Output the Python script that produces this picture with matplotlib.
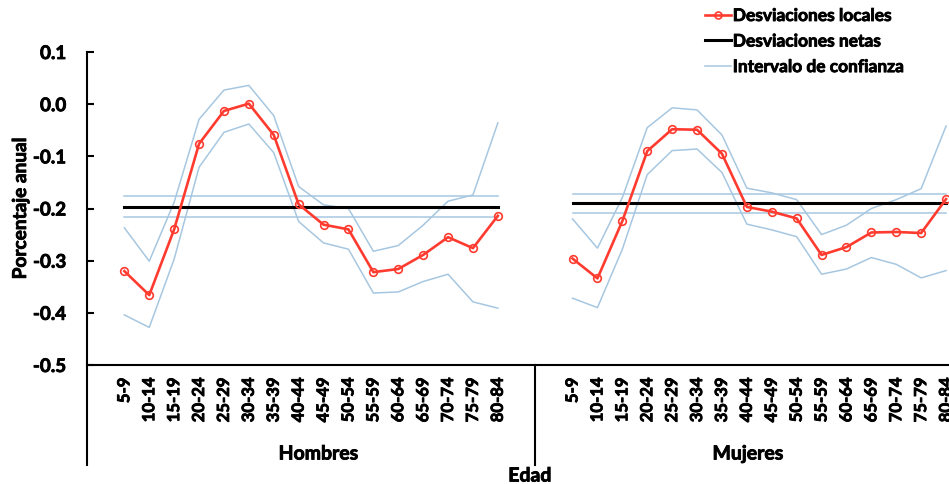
import numpy as np
import matplotlib
matplotlib.use("Agg")
import matplotlib.pyplot as plt
from matplotlib.lines import Line2D
import matplotlib.transforms as mtransforms
import matplotlib.patheffects as pe

plt.rcParams['font.family'] = ['Lato', 'DejaVu Sans']
plt.rcParams['font.weight'] = 'bold'

edades = ["5-9", "10-14", "15-19", "20-24", "25-29", "30-34", "35-39", "40-44",
          "45-49", "50-54", "55-59", "60-64", "65-69", "70-74", "75-79", "80-84"]

# Hombres
h_local = [-0.320, -0.366, -0.240, -0.076, -0.013, 0.001, -0.059, -0.192,
           -0.231, -0.240, -0.322, -0.316, -0.289, -0.255, -0.276, -0.214]
h_sup = [-0.237, -0.301, -0.188, -0.029, 0.027, 0.036, -0.022, -0.158,
         -0.193, -0.200, -0.282, -0.271, -0.232, -0.186, -0.174, -0.036]
h_inf = [-0.404, -0.428, -0.297, -0.121, -0.054, -0.038, -0.093, -0.225,
         -0.266, -0.278, -0.362, -0.360, -0.340, -0.326, -0.379, -0.391]
h_neta = -0.197
h_neta_sup = -0.176
h_neta_inf = -0.217

# Mujeres
m_local = [-0.296, -0.334, -0.224, -0.090, -0.048, -0.049, -0.095, -0.197,
           -0.206, -0.219, -0.289, -0.274, -0.246, -0.245, -0.247, -0.182]
m_sup = [-0.220, -0.276, -0.179, -0.045, -0.007, -0.011, -0.059, -0.161,
         -0.170, -0.183, -0.250, -0.232, -0.200, -0.183, -0.162, -0.042]
m_inf = [-0.372, -0.390, -0.278, -0.135, -0.089, -0.086, -0.131, -0.230,
         -0.241, -0.254, -0.326, -0.316, -0.294, -0.307, -0.333, -0.319]
m_neta = -0.190
m_neta_sup = -0.172
m_neta_inf = -0.209

yticks = [0.1, 0.0, -0.1, -0.2, -0.3, -0.4, -0.5]

RED = '#FF3B2F'
BLUE = '#A7C7E0'
# thicken the text a bit, closer to the heavy bold of the original
BOLD = [pe.withStroke(linewidth=0.6, foreground='black')]

W, H = 949, 485
fig = plt.figure(figsize=(W / 100, H / 100), dpi=100)
ax = fig.add_axes([87 / W, 1 - 366 / H, 871.5 / W, 313 / H])

n = len(edades)
xh = np.arange(1, n + 1)
xm = np.arange(n + 3, 2 * n + 3)

for x, loc, sup, inf, neta, ns, ni in [
        (xh, h_local, h_sup, h_inf, h_neta, h_neta_sup, h_neta_inf),
        (xm, m_local, m_sup, m_inf, m_neta, m_neta_sup, m_neta_inf)]:
    ax.plot(x, sup, color=BLUE, lw=1.1, zorder=2)
    ax.plot(x, inf, color=BLUE, lw=1.1, zorder=2)
    ax.plot(x, [ns] * n, color=BLUE, lw=1.1, zorder=2)
    ax.plot(x, [ni] * n, color=BLUE, lw=1.1, zorder=2)
    ax.plot(x, [neta] * n, color='black', lw=2.2, zorder=3)
    ax.plot(x, loc, color=RED, lw=1.9, marker='o', ms=5.5, mfc='none',
            mec=RED, mew=1.2, zorder=4, clip_on=False)

ax.set_xlim(-0.5, 2 * n + 2.5)
ax.set_ylim(-0.5, 0.1)
ax.set_yticks(yticks)
ax.set_yticklabels([f"{v:.1f}" for v in yticks])
ax.tick_params(axis='y', direction='in', length=5, width=1.5, pad=15,
               labelsize=13.5)
ax.set_xticks(np.concatenate([xh, xm]))
ax.set_xticklabels(edades + edades, rotation=90, va='top', ha='center')
ax.tick_params(axis='x', length=0, pad=9, labelsize=12)
for lab in ax.get_xticklabels() + ax.get_yticklabels():
    lab.set_fontweight('bold')
    lab.set_path_effects(BOLD)

for s in ['top', 'right']:
    ax.spines[s].set_visible(False)
ax.spines['left'].set_visible(False)
ax.spines['bottom'].set_linewidth(1.5)

ext = -(466 - 366) / 313
trans = mtransforms.blended_transform_factory(ax.transData, ax.transAxes)
ax.add_line(Line2D([0, 0], [1, ext], transform=ax.transAxes, color='black',
                   lw=1.5, clip_on=False))
ax.add_line(Line2D([n + 1.5, n + 1.5], [0, ext], transform=trans,
                   color='black', lw=1.5, clip_on=False))

ax.text(8.8, 1 - (455 - 53) / 313, "Hombres", transform=trans, ha='center',
        va='center', fontsize=14, fontweight='bold', path_effects=BOLD)
ax.text(26.05, 1 - (455 - 53) / 313, "Mujeres", transform=trans, ha='center',
        va='center', fontsize=14, fontweight='bold', path_effects=BOLD)
fig.text(530 / W, 1 - 477 / H, "Edad", ha='center', va='center',
         fontsize=14, fontweight='bold', path_effects=BOLD)

ax.set_ylabel("Porcentaje anual", fontsize=13.7, fontweight='bold',
              path_effects=BOLD)
ax.yaxis.set_label_coords((29 - 87) / 871.5, 0.5)

handles = [Line2D([], [], color=RED, lw=1.9, marker='o', ms=5, mfc='none',
                  mec=RED, mew=1.2),
           Line2D([], [], color='black', lw=2.2),
           Line2D([], [], color=BLUE, lw=1.1)]
labels = ["Desviaciones locales", "Desviaciones netas", "Intervalo de confianza"]
leg = fig.legend(handles, labels, loc='upper left',
                 bbox_to_anchor=(705 / W, 1 - 9 / H),
                 frameon=False, handlelength=1.5, handletextpad=0.1,
                 labelspacing=0.55, borderaxespad=0, borderpad=0,
                 prop={'weight': 'bold', 'size': 12.5})
for t in leg.get_texts():
    t.set_path_effects(BOLD)

fig.savefig("out.png", dpi=100)
